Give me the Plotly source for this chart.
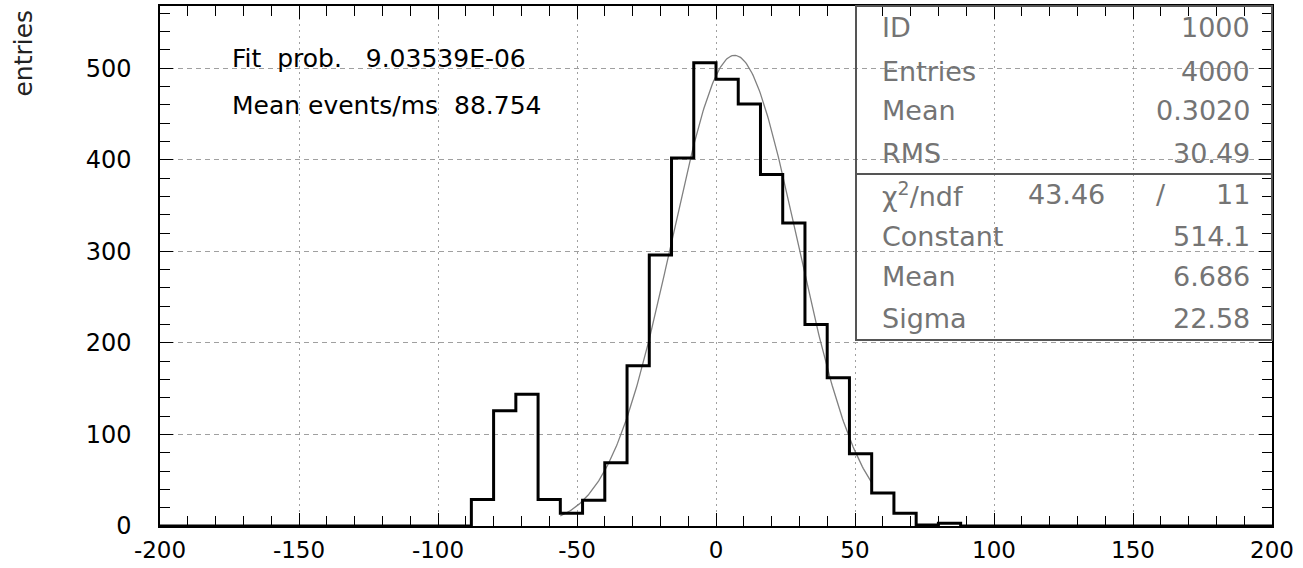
import numpy as np
import plotly.graph_objects as go

# ---- data ----
bin_lo = -200
bin_width = 8
counts = [0] * 14 + [29, 126, 144, 29, 14, 28, 69, 175, 296, 402, 506, 488, 461,
                     384, 331, 220, 162, 79, 36, 14, 1, 3] + [0] * 14
fit_constant = 514.1
fit_mean = 6.686
fit_sigma = 22.58
fit_range = [-56, 56]

x_tickvals = [-200, -150, -100, -50, 0, 50, 100, 150, 200]
x_ticktext = ["-200", "-150", "-100", "-50", "0", "50", "100", "150", "200"]
y_tickvals = [0, 100, 200, 300, 400, 500]
y_ticktext = ["0", "100", "200", "300", "400", "500"]

stats_labels = ["ID", "Entries", "Mean", "RMS"]
stats_values = ["1000", "4000", "0.3020", "30.49"]
fit_labels = ["Constant", "Mean", "Sigma"]
fit_values = ["514.1", "6.686", "22.58"]
chi2 = "43.46"
ndf = "11"
fit_prob = "9.03539E-06"
mean_rate = "88.754"

# ---- build ----
edges = [bin_lo + bin_width * i for i in range(len(counts) + 1)]
step_x = edges
step_y = counts + [counts[-1]]

fx = np.linspace(fit_range[0], fit_range[1], 300)
fy = fit_constant * np.exp(-0.5 * ((fx - fit_mean) / fit_sigma) ** 2)

fig = go.Figure()
fig.add_trace(go.Scatter(x=fx, y=fy, mode="lines",
                         line=dict(color="#808080", width=1.3), hoverinfo="skip"))
fig.add_trace(go.Scatter(x=step_x, y=step_y, mode="lines", line_shape="hv",
                         line=dict(color="black", width=3)))

xtickfont = dict(family="DejaVu Sans", size=23, color="black")
ytickfont = dict(family="DejaVu Sans", size=24, color="black")
fig.update_layout(
    width=1303, height=568,
    margin=dict(l=160, r=31, t=6, b=42),
    plot_bgcolor="white", paper_bgcolor="white",
    showlegend=False,
    xaxis=dict(range=[-200, 200], tickmode="array", tickvals=x_tickvals,
               ticktext=x_ticktext, ticks="inside", ticklen=13, automargin=False,
               tickcolor="black", showline=True, linecolor="black", linewidth=1.5,
               mirror="ticks", showgrid=True, gridcolor="#a0a0a0", griddash="2px,4px",
               gridwidth=1, zeroline=False, tickfont=xtickfont, ticklabelstandoff=3,
               minor=dict(dtick=10, tick0=0, ticks="inside", ticklen=10, tickcolor="black",
                          showgrid=False)),
    yaxis=dict(range=[0, 568], tickmode="array", tickvals=y_tickvals,
               ticktext=y_ticktext, ticks="inside", ticklen=13, automargin=False,
               tickcolor="black", showline=True, linecolor="black", linewidth=1.5,
               mirror="ticks", showgrid=True, gridcolor="#a0a0a0", griddash="5px,4px",
               gridwidth=1, zeroline=False, tickfont=ytickfont, ticklabelstandoff=22,
               minor=dict(dtick=20, tick0=0, ticks="inside", ticklen=10, tickcolor="black",
                          showgrid=False)),
)

ann = []
ann.append(dict(text="entries", x=(24 - 160) / 1112, y=0.996, xref="paper", yref="paper",
                xanchor="center", yanchor="top", textangle=-90, showarrow=False,
                font=dict(family="DejaVu Sans", size=25, color="#222")))


def py(pix):
    return (526 - pix) / 520


ann.append(dict(text=f"Fit  prob.   {fit_prob}", x=(230 - 160) / 1112, y=py(59),
                xref="paper", yref="paper", xanchor="left", yanchor="middle",
                showarrow=False, font=dict(family="DejaVu Sans", size=25, color="black")))
ann.append(dict(text=f"Mean events/ms  {mean_rate}", x=(230 - 160) / 1112, y=py(106),
                xref="paper", yref="paper", xanchor="left", yanchor="middle",
                showarrow=False, font=dict(family="DejaVu Sans", size=25, color="black")))

sfont = dict(family="DejaVu Sans", size=27, color="#747474")
x_left = (880 - 160) / 1112
x_right = (1252 - 160) / 1112

row_y1 = [28, 71, 111, 153]
for lab, val, yy in zip(stats_labels, stats_values, row_y1):
    ann.append(dict(text=lab, x=x_left, y=py(yy), xref="paper", yref="paper",
                    xanchor="left", yanchor="middle", showarrow=False, font=sfont))
    ann.append(dict(text=val, x=x_right, y=py(yy), xref="paper", yref="paper",
                    xanchor="right", yanchor="middle", showarrow=False, font=sfont))

ann.append(dict(text="χ<sup>2</sup>/ndf", x=x_left, y=py(194), xref="paper", yref="paper",
                xanchor="left", yanchor="middle", showarrow=False, font=sfont))
ann.append(dict(text=chi2, x=(1066 - 160) / 1112, y=py(194), xref="paper", yref="paper",
                xanchor="center", yanchor="middle", showarrow=False, font=sfont))
ann.append(dict(text="/", x=(1161 - 160) / 1112, y=py(194), xref="paper", yref="paper",
                xanchor="center", yanchor="middle", showarrow=False, font=sfont))
ann.append(dict(text=ndf, x=x_right, y=py(194), xref="paper", yref="paper",
                xanchor="right", yanchor="middle", showarrow=False, font=sfont))

row_y2 = [236, 277, 318]
for lab, val, yy in zip(fit_labels, fit_values, row_y2):
    ann.append(dict(text=lab, x=x_left, y=py(yy), xref="paper", yref="paper",
                    xanchor="left", yanchor="middle", showarrow=False, font=sfont))
    ann.append(dict(text=val, x=x_right, y=py(yy), xref="paper", yref="paper",
                    xanchor="right", yanchor="middle", showarrow=False, font=sfont))

fig.update_layout(annotations=ann)

box_x0 = (856 - 160) / 1112
fig.add_shape(type="rect", xref="paper", yref="paper", x0=box_x0, x1=1.0,
              y0=py(340), y1=1.0, line=dict(color="#555555", width=2))
fig.add_shape(type="line", xref="paper", yref="paper", x0=box_x0, x1=1.0,
              y0=py(174), y1=py(174), line=dict(color="#555555", width=2))

fig.write_html("out.html")
